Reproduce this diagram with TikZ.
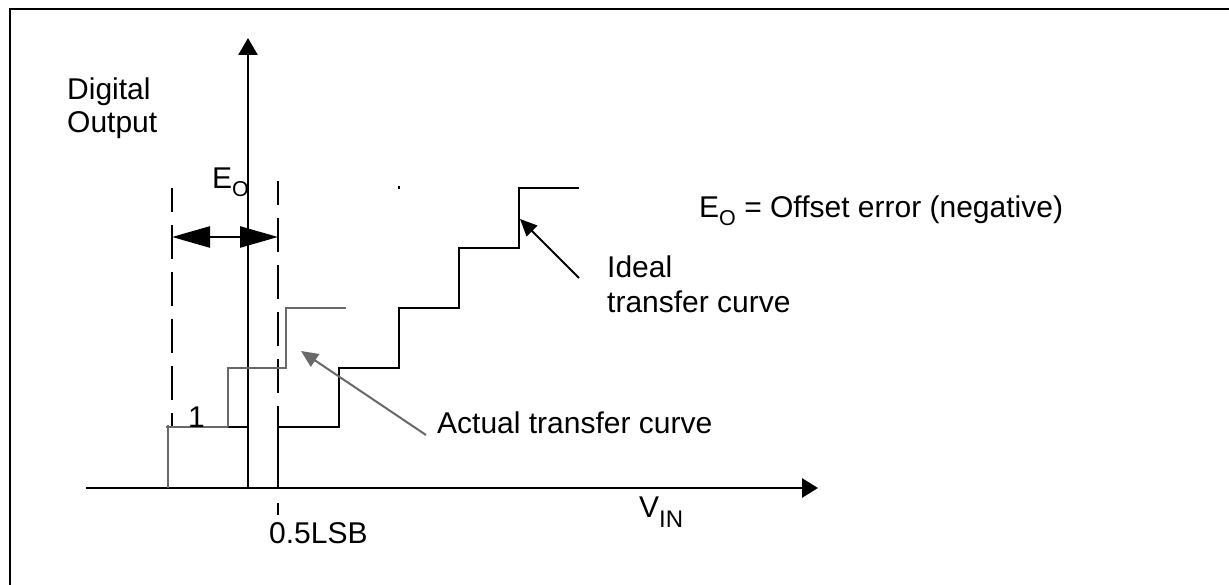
\documentclass[tikz,border=0pt]{standalone}
\usepackage{fontspec}
\setmainfont{Liberation Sans}
\usetikzlibrary{arrows.meta}
\definecolor{actgray}{RGB}{105,105,105}
\tikzset{
  lbl/.style={anchor=base west, inner sep=0pt, font=\fontsize{30}{34}\selectfont},
  axisline/.style={line width=2.8pt, black},
  idealcurve/.style={line width=2.5pt, black},
  actualcurve/.style={line width=2.4pt, actgray},
  guide/.style={line width=2.4pt, dash pattern=on 34pt off 13pt, dash phase=10pt},
  pointer/.style={line width=2pt, -{Triangle[length=17pt,width=15pt]}},
  dimarrow/.style={line width=2.5pt, {Triangle[length=38pt,width=21pt]}-{Triangle[length=38pt,width=21pt]}},
}
\newcommand\mysub[1]{\raisebox{-8pt}{\fontsize{21.5}{22}\selectfont #1}}
\begin{document}
\begin{tikzpicture}[x=1pt,y=-1pt]
\useasboundingbox (0,0) rectangle (1229,585);
% frame
\draw[line width=2.6pt] (10,585) -- (10,9) -- (1229,9);

% axes
\coordinate (O) at (248,488);
\coordinate (ytip) at (248,38);
\coordinate (xstart) at (86,488);
\coordinate (xtip) at (818,488);
\draw[axisline,-{Triangle[length=17pt,width=19pt]}] (O) -- (ytip);
\draw[axisline,-{Triangle[length=16pt,width=19pt]}] (xstart) -- (xtip);

% dashed guides
\coordinate (gLtop) at (172,188);
\coordinate (gLbot) at (172,427);
\coordinate (gRtop) at (278,181);
\coordinate (gRbot) at (278,488);
\draw[guide] (gLtop) -- (gLbot);
\draw[guide] (gRtop) -- (gRbot);
\draw[line width=2.4pt] (278,503) -- (278,515);

% ideal transfer curve
\draw[idealcurve] (228,427) -- (248,427);
\draw[idealcurve] (278,488) -- (278,427) -- (339,427) -- (339,368) -- (399,368)
  -- (399,308) -- (459,308) -- (459,248) -- (519,248) -- (519,188) -- (579,188);
\fill (398,186) rectangle (400,189);

% actual transfer curve
\draw[actualcurve] (166,427) -- (228,427);
\draw[actualcurve] (168,488) -- (168,425);
\draw[actualcurve] (228,427) -- (228,368) -- (286,368) -- (286,308) -- (346,308);

% offset dimension arrow
\coordinate (eoL) at (172,237);
\coordinate (eoR) at (278,237);
\draw[dimarrow] (eoL) -- (eoR);

% labels
\node[lbl] (dig) at (67,100) {Digital};
\node[lbl] (out) at (67,133) {Output};
\node[lbl] (eo) at (212,189) {E\mysub{O}};
\node[lbl] (one) at (188,427) {1};
\node[lbl] (lsb) at (269,543) {0.5LSB};
\node[lbl] (vin) at (639,517) {V\raisebox{-10pt}{\fontsize{24}{24}\selectfont IN}};
\node[lbl] (ideal1) at (607,278) {Ideal};
\node[lbl] (ideal2) at (607,313) {transfer curve};
\node[lbl] (actual) at (437,433) {Actual transfer curve};
\node[lbl] (legend) at (699,218) {E\mysub{O} = Offset error (negative)};

% pointers
\coordinate (idealfrom) at (579,278);
\coordinate (idealtip) at (520,219);
\draw[pointer] (idealfrom) -- (idealtip);
\coordinate (actfrom) at (426,435);
\coordinate (acttip) at (301,351);
\draw[pointer, actgray] (actfrom) -- (acttip);
\end{tikzpicture}
\end{document}
